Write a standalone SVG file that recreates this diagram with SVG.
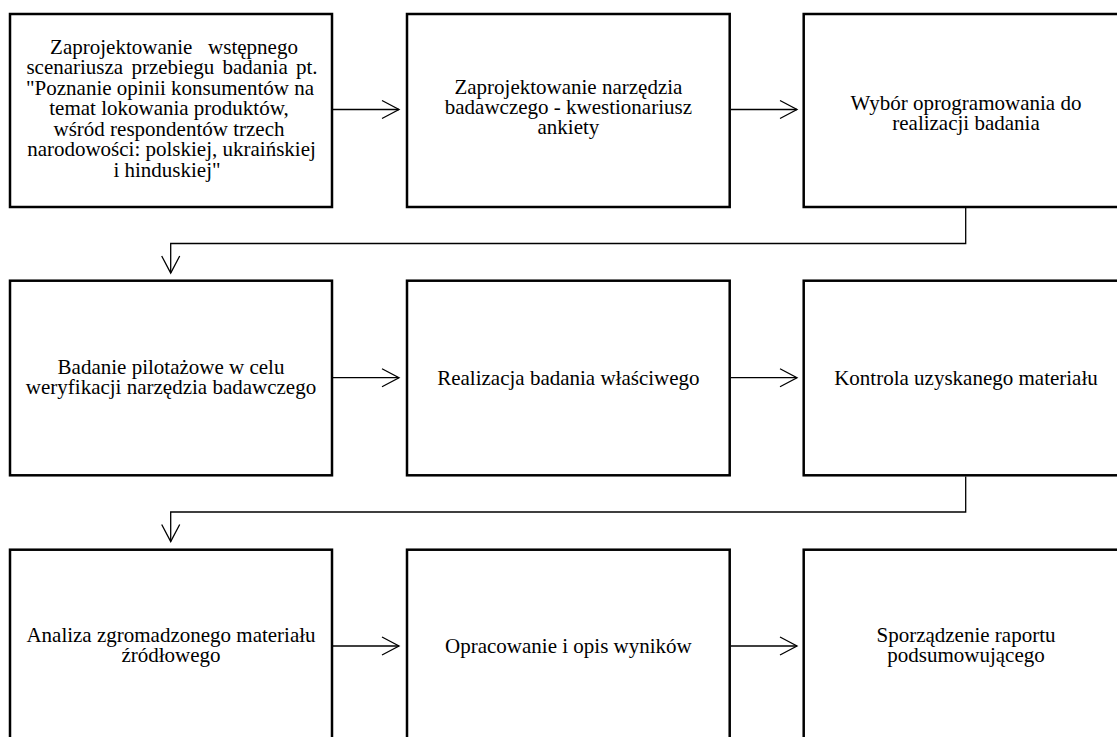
<svg xmlns="http://www.w3.org/2000/svg" width="1117" height="737" viewBox="0 0 1117 737">
<style>
.box{fill:#fff;stroke:#000;stroke-width:2.5}
.t{font-family:"Liberation Serif","Times New Roman",serif;font-size:21px;fill:#000;text-anchor:middle}
.c{fill:none;stroke:#000;stroke-width:1.3}
</style>
<defs>
<marker id="ah" markerUnits="userSpaceOnUse" markerWidth="24" markerHeight="24" viewBox="-20 -12 24 24" refX="0" refY="0" orient="auto">
<path d="M-17,-9 L0,0 L-17,9" fill="none" stroke="#000" stroke-width="1.3"/>
</marker>
</defs>
<rect width="1117" height="737" fill="#fff"/>
<g id="connectors">
<line class="c" x1="333" y1="109.5" x2="399" y2="109.5" marker-end="url(#ah)"/>
<line class="c" x1="731" y1="109.5" x2="797" y2="109.5" marker-end="url(#ah)"/>
<polyline class="c" points="965.7,208 965.7,243.5 170.7,243.5 170.7,273" marker-end="url(#ah)"/>
<line class="c" x1="333" y1="377.7" x2="399" y2="377.7" marker-end="url(#ah)"/>
<line class="c" x1="731" y1="377.7" x2="797" y2="377.7" marker-end="url(#ah)"/>
<polyline class="c" points="965.7,476.5 965.7,512 170.7,512 170.7,541.5" marker-end="url(#ah)"/>
<line class="c" x1="333" y1="646" x2="399" y2="646" marker-end="url(#ah)"/>
<line class="c" x1="731" y1="646" x2="797" y2="646" marker-end="url(#ah)"/>
</g>
<g id="n1">
<rect class="box" x="10" y="14" width="322" height="193"/>
<text class="t"><tspan x="174" y="53.5">Zaprojektowanie&#160;&#160;&#160;wstępnego</tspan><tspan x="172" y="74" word-spacing="3">scenariusza przebiegu badania pt.</tspan><tspan x="170" y="94.5">"Poznanie opinii konsumentów na</tspan><tspan x="169" y="115">temat lokowania produktów,</tspan><tspan x="169" y="135.5">wśród respondentów trzech</tspan><tspan x="171.5" y="156">narodowości: polskiej, ukraińskiej</tspan><tspan x="167" y="176.5">i hinduskiej"</tspan></text>
</g>
<g id="n2">
<rect class="box" x="407" y="14" width="322.7" height="193"/>
<text class="t"><tspan x="568.4" y="93.5">Zaprojektowanie narzędzia</tspan><tspan x="568.4" y="113.5">badawczego - kwestionariusz</tspan><tspan x="568.4" y="133.5">ankiety</tspan></text>
</g>
<g id="n3">
<rect class="box" x="803.7" y="14" width="322.7" height="193"/>
<text class="t"><tspan x="966" y="110">Wybór oprogramowania do</tspan><tspan x="966" y="130">realizacji badania</tspan></text>
</g>
<g id="n4">
<rect class="box" x="10" y="280.7" width="322" height="194.6"/>
<text class="t"><tspan x="171" y="374">Badanie pilotażowe w celu</tspan><tspan x="171" y="394">weryfikacji narzędzia badawczego</tspan></text>
</g>
<g id="n5">
<rect class="box" x="407" y="280.7" width="322.7" height="194.6"/>
<text class="t" x="568.4" y="385">Realizacja badania właściwego</text>
</g>
<g id="n6">
<rect class="box" x="803.7" y="280.7" width="322.7" height="194.6"/>
<text class="t" x="966" y="385">Kontrola uzyskanego materiału</text>
</g>
<g id="n7">
<rect class="box" x="10" y="549.7" width="322" height="194.6"/>
<text class="t"><tspan x="171" y="641.7">Analiza zgromadzonego materiału</tspan><tspan x="171" y="661.5">źródłowego</tspan></text>
</g>
<g id="n8">
<rect class="box" x="407" y="549.7" width="322.7" height="194.6"/>
<text class="t" x="568.4" y="653.3">Opracowanie i opis wyników</text>
</g>
<g id="n9">
<rect class="box" x="803.7" y="549.7" width="322.7" height="194.6"/>
<text class="t"><tspan x="966" y="641.7">Sporządzenie raportu</tspan><tspan x="966" y="661.5">podsumowującego</tspan></text>
</g>
</svg>
